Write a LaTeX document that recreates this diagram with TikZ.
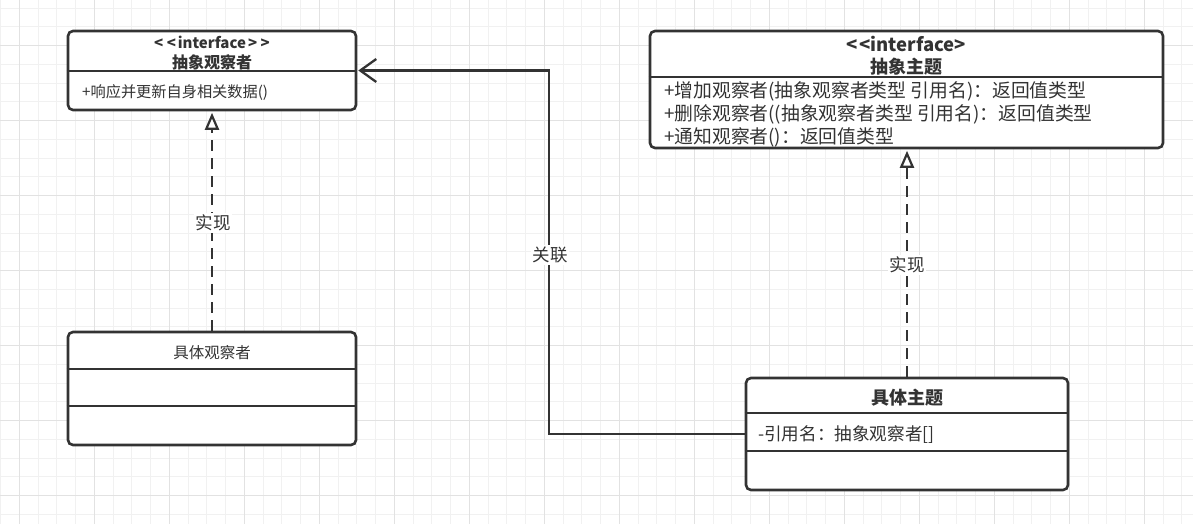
\documentclass[tikz,border=0pt]{standalone}
\usepackage{fontspec}
\setmainfont{Noto Sans CJK SC}
\usetikzlibrary{arrows.meta}
\definecolor{ink}{HTML}{333333}
\definecolor{gridminor}{HTML}{F1F1F1}
\definecolor{gridmajor}{HTML}{E2E2E2}
\begin{document}
\begin{tikzpicture}[x=1pt,y=-1pt,
  umlbox/.style 2 args={draw=ink, line width=2.6pt, rounded corners=5pt, fill=white, inner sep=0pt, minimum width=#1, minimum height=#2},
  divider/.style={draw=ink, line width=2.2pt},
  txt/.style={inner sep=0pt, text=ink, font=\fontsize{16}{18}\selectfont},
  txtb/.style={inner sep=0pt, text=ink, font=\fontsize{16}{18}\selectfont\bfseries},
  bigtxt/.style={inner sep=0pt, text=ink, font=\fontsize{18.8}{20}\selectfont},
  bigtxtb/.style={inner sep=0pt, text=ink, font=\fontsize{18}{20}\selectfont\bfseries},
  lbl/.style={fill=white, inner sep=1.5pt, text=ink, font=\fontsize{17.5}{19}\selectfont},
  realize/.style={draw=ink, line width=2.6pt, dash pattern=on 11pt off 7pt, shorten >=1.5pt,
    -{Triangle[open, fill=white, length=17pt, width=14pt, line width=2.2pt]}},
  assoc/.style={draw=ink, line width=2.3pt, shorten >=1pt,
    -{Straight Barb[length=16pt, width=23pt, line width=2.3pt]}}
]
\useasboundingbox (0,0) rectangle (1193,524);
\fill[white] (0,0) rectangle (1193,524);
% grid
\foreach \i in {0,...,63} \draw[gridminor, line width=1pt] ({0.55+\i*18.75},0) -- ({0.55+\i*18.75},524);
\foreach \j in {0,...,27} \draw[gridminor, line width=1pt] (0,{8.2+\j*18.75}) -- (1193,{8.2+\j*18.75});
\foreach \i in {0,...,15} \draw[gridmajor, line width=1pt] ({19.3+\i*75},0) -- ({19.3+\i*75},524);
\foreach \j in {0,...,6} \draw[gridmajor, line width=1pt] (0,{45.7+\j*75}) -- (1193,{45.7+\j*75});

% boxes
\node[umlbox={288pt}{79pt}] (b1) at (212,70.5) {};
\node[umlbox={513pt}{117pt}] (b2) at (906.5,89.5) {};
\node[umlbox={322pt}{112pt}] (b3) at (907,434) {};
\node[umlbox={288pt}{113pt}] (b4) at (212,388.5) {};

% dividers
\draw[divider] ([yshift=-41.7pt]b1.north west) -- ([yshift=-41.7pt]b1.north east);
\draw[divider] ([yshift=-47pt]b2.north west) -- ([yshift=-47pt]b2.north east);
\draw[divider] ([yshift=-36.5pt]b3.north west) -- ([yshift=-36.5pt]b3.north east);
\draw[divider] ([yshift=-74.5pt]b3.north west) -- ([yshift=-74.5pt]b3.north east);
\draw[divider] ([yshift=-38pt]b4.north west) -- ([yshift=-38pt]b4.north east);
\draw[divider] ([yshift=-75.5pt]b4.north west) -- ([yshift=-75.5pt]b4.north east);

% texts box 1
\node[txtb, font=\fontsize{15}{17}\selectfont\bfseries] (b1s) at (212,42) {<\kern3.5pt<\kern2pt interface\kern2pt>\kern3.5pt>};
\node[txtb] (b1t) at (212,62) {抽象观察者};
\node[txt, font=\fontsize{15.2}{17}\selectfont, anchor=west] (b1a) at (82,93) {+响应并更新自身相关数据()};
% texts box 2
\node[bigtxtb, font=\fontsize{18.5}{20}\selectfont\bfseries] (b2s) at (906.5,44) {<\kern1.5pt<interface>};
\node[bigtxtb] (b2t) at (906.5,67) {抽象主题};
\node[bigtxt, anchor=west] (b2a) at (664,91) {+增加观察者(抽象观察者类型 引用名)：返回值类型};
\node[bigtxt, anchor=west] (b2b) at (664,114) {+删除观察者((抽象观察者类型 引用名)：返回值类型};
\node[bigtxt, anchor=west] (b2c) at (664,137) {+通知观察者()：返回值类型};
% texts box 3
\node[bigtxtb] (b3t) at (907,398) {具体主题};
\node[bigtxt, font=\fontsize{17.6}{20}\selectfont, anchor=west] (b3a) at (758,435) {-引用名：抽象观察者[]};
% texts box 4
\node[txt, font=\fontsize{15.5}{18}\selectfont] (b4t) at (212,353) {具体观察者};

% connectors
\draw[realize] (b4.north) -- (b1.south);
\draw[realize] (b3.north) -- (b3.north |- b2.south);
\draw[assoc] (b3.west) -- ++(-196,0) |- (b1.east);

% labels
\node[lbl] (l1) at (213,223) {实现};
\node[lbl] (l2) at (907,265) {实现};
\node[lbl] (l3) at (550,255) {关联};
\end{tikzpicture}
\end{document}
